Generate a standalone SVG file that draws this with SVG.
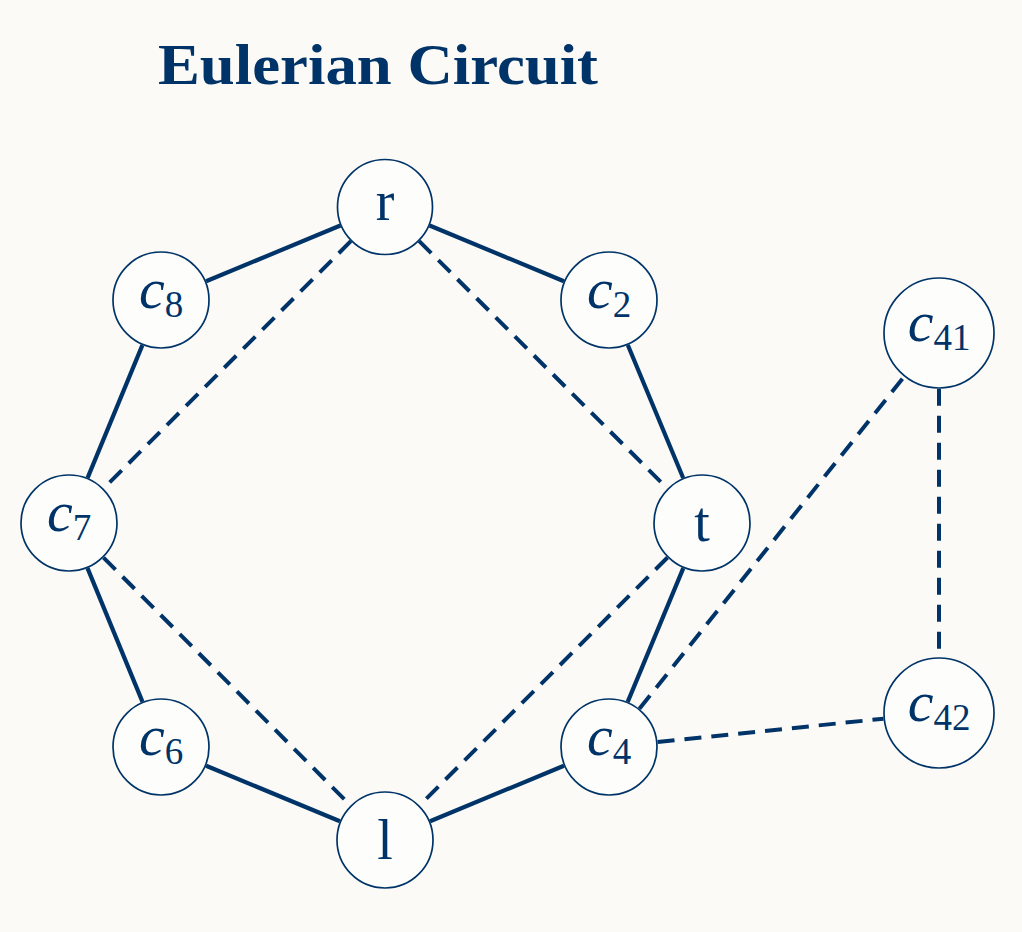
<svg xmlns="http://www.w3.org/2000/svg" width="1022" height="932" viewBox="0 0 1022 932">
<style>
.bg{fill:#fbfaf6}
.title{font-family:"Liberation Serif","Times New Roman",serif;font-weight:bold;font-size:57px;fill:#003469}
.node circle{fill:#fdfdfb;stroke:#003469;stroke-width:1.7}
.lbl{font-family:"Liberation Serif","Times New Roman",serif;font-size:56px;fill:#003469;text-anchor:middle}
.lbl .v{font-style:italic;font-size:58px}
.lbl .s{font-size:37px}
.solid line{stroke:#003469;stroke-width:4.2;fill:none}
.dash line{stroke:#003469;stroke-width:4;stroke-dasharray:17 10;fill:none}
</style>
<rect class="bg" x="0" y="0" width="1022" height="932"/>
<text class="title" x="158" y="84" textLength="440" lengthAdjust="spacingAndGlyphs">Eulerian Circuit</text>
<g id="connectors">
<g class="solid">
<line x1="340.4" y1="225.5" x2="206.1" y2="281.3"/>
<line x1="429.6" y1="225.5" x2="563.9" y2="281.3"/>
<line x1="142.4" y1="345.1" x2="87.6" y2="477.9"/>
<line x1="627.8" y1="345.0" x2="683.2" y2="478.0"/>
<line x1="87.5" y1="568.1" x2="142.5" y2="701.9"/>
<line x1="683.3" y1="568.1" x2="627.7" y2="701.9"/>
<line x1="206.1" y1="765.7" x2="339.9" y2="821.3"/>
<line x1="563.9" y1="765.7" x2="430.1" y2="821.3"/>
</g>
<g class="dash">
<line x1="350.8" y1="241.2" x2="103.5" y2="488.5"/>
<line x1="419.2" y1="241.1" x2="667.4" y2="488.5"/>
<line x1="103.5" y1="557.6" x2="350.5" y2="805.4"/>
<line x1="667.5" y1="557.5" x2="419.5" y2="805.5"/>
<line x1="639.4" y1="708.8" x2="904.2" y2="376.6"/>
<line x1="939" y1="388.8" x2="939" y2="657.2"/>
<line x1="657.6" y1="742.0" x2="883.5" y2="718.7"/>
</g>
</g>
<g id="node-r" class="node"><circle cx="385" cy="207" r="47.5"/><text class="lbl" x="385" y="219.5">r</text></g>
<g id="node-c8" class="node"><circle cx="161" cy="300" r="48"/><text class="lbl" x="161" y="308"><tspan class="v">c</tspan><tspan class="s" dy="8.5">8</tspan></text></g>
<g id="node-c2" class="node"><circle cx="609" cy="300" r="48"/><text class="lbl" x="609" y="308"><tspan class="v">c</tspan><tspan class="s" dy="8.5">2</tspan></text></g>
<g id="node-c41" class="node"><circle cx="939" cy="333" r="55"/><text class="lbl" x="939" y="341"><tspan class="v">c</tspan><tspan class="s" dy="8.5">41</tspan></text></g>
<g id="node-c7" class="node"><circle cx="69" cy="523" r="48"/><text class="lbl" x="69" y="531"><tspan class="v">c</tspan><tspan class="s" dy="8.5">7</tspan></text></g>
<g id="node-t" class="node"><circle cx="702" cy="523" r="48"/><text class="lbl" x="702" y="541">t</text></g>
<g id="node-c6" class="node"><circle cx="161" cy="747" r="48"/><text class="lbl" x="161" y="755"><tspan class="v">c</tspan><tspan class="s" dy="8.5">6</tspan></text></g>
<g id="node-c4" class="node"><circle cx="609" cy="747" r="48"/><text class="lbl" x="609" y="755"><tspan class="v">c</tspan><tspan class="s" dy="8.5">4</tspan></text></g>
<g id="node-c42" class="node"><circle cx="939" cy="713" r="55"/><text class="lbl" x="939" y="721"><tspan class="v">c</tspan><tspan class="s" dy="8.5">42</tspan></text></g>
<g id="node-l" class="node"><circle cx="385" cy="840" r="48"/><text class="lbl" x="385" y="859">l</text></g>
</svg>
